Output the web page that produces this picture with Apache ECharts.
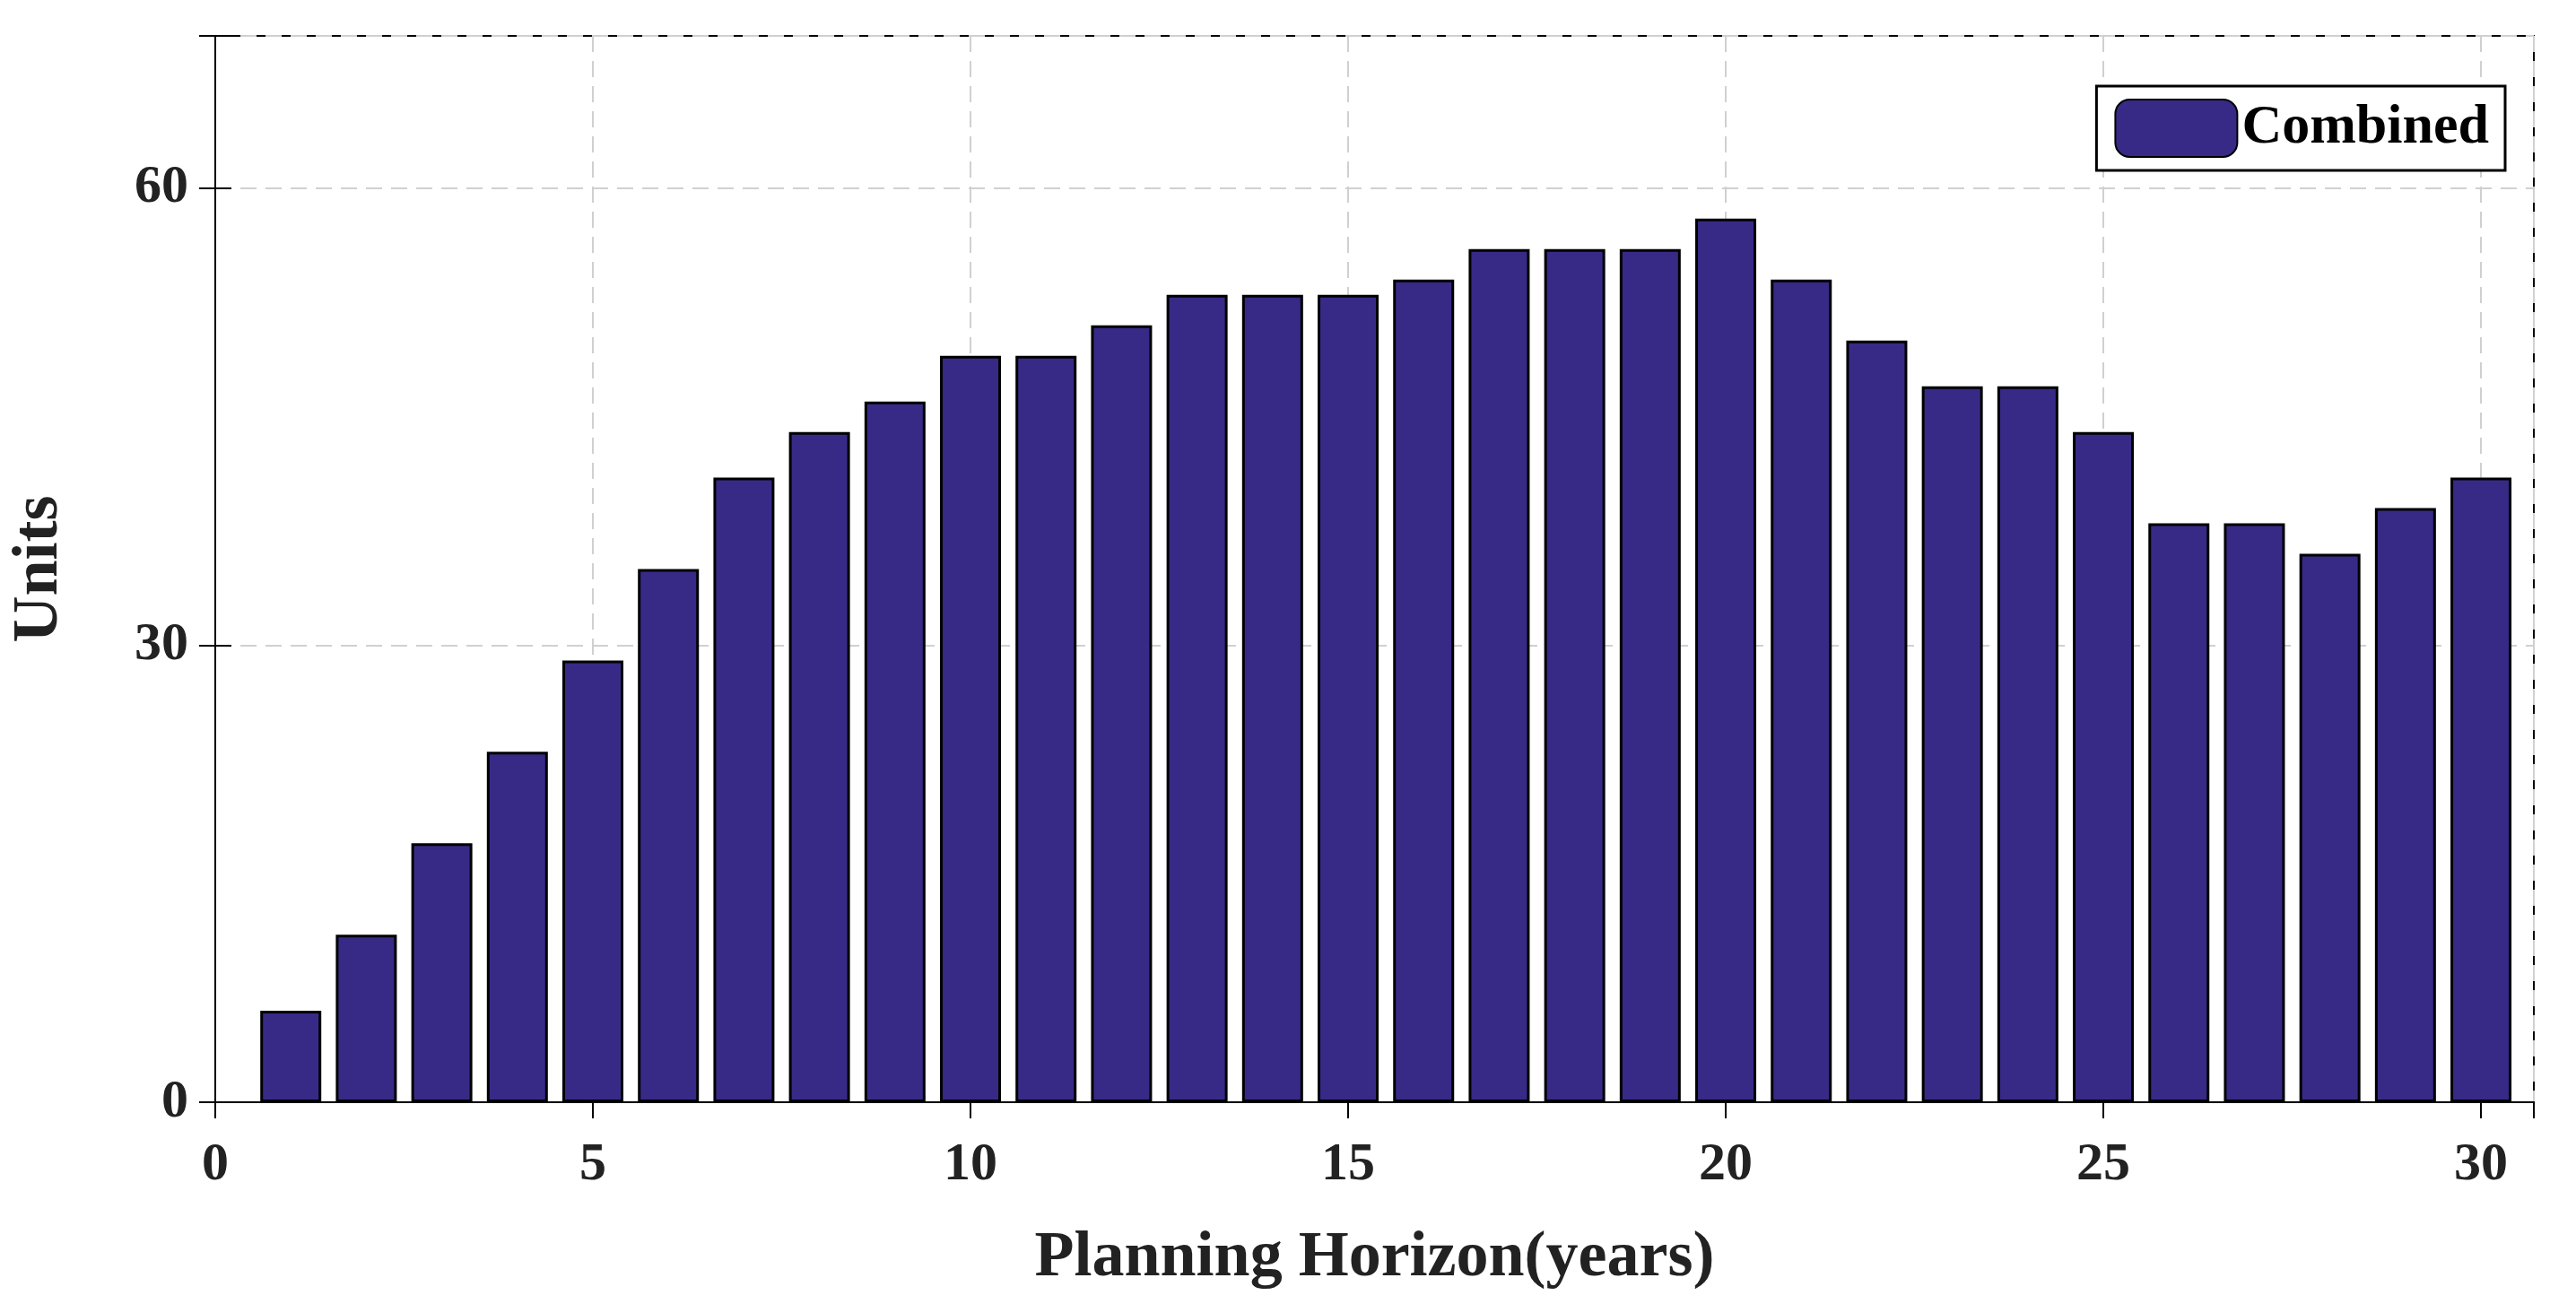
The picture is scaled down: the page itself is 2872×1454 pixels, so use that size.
<!DOCTYPE html>
<html>
<head>
<meta charset="utf-8">
<script src="https://cdn.jsdelivr.net/npm/echarts@6/dist/echarts.min.js"></script>
<style>html,body{margin:0;padding:0;background:#fff}#chart{width:2872px;height:1454px}</style>
</head>
<body>
<div id="chart"></div>
<script>
var years = [1,2,3,4,5,6,7,8,9,10,11,12,13,14,15,16,17,18,19,20,21,22,23,24,25,26,27,28,29,30];
var units = [6,11,17,23,29,35,41,44,46,49,49,51,53,53,53,54,56,56,56,58,54,50,47,47,44,38,38,36,39,41];
var xTicks = [0,5,10,15,20,25,30];
var yTicks = [0,30,60];

var font = 'Liberation Serif';
var chart = echarts.init(document.getElementById('chart'));
var data = years.map(function (y, i) { return [y, units[i]]; });

var gridLine = {show: true, lineStyle: {color: '#d0d0d0', type: [18, 10], width: 2}};
chart.setOption({
  animation: false,
  grid: {left: 224, right: 47, top: 40, bottom: 225, show: true, borderColor: '#000', borderWidth: 2},
  legend: {
    right: 79, top: 96, itemWidth: 136, itemHeight: 64, itemGap: 10,
    padding: [14, 18, 14, 20], borderColor: '#000', borderWidth: 3, backgroundColor: '#fff',
    textStyle: {fontFamily: font, fontWeight: 'bold', fontSize: 62, color: '#000'},
    data: ['Combined']
  },
  xAxis: [{
    type: 'value', min: 0, max: 30.7, interval: 5,
    name: 'Planning Horizon(years)', nameLocation: 'middle', nameGap: 138,
    nameTextStyle: {fontFamily: font, fontWeight: 'bold', fontSize: 72, color: '#222'},
    axisLine: {lineStyle: {color: '#000', width: 2}},
    axisTick: {inside: true, length: 18, lineStyle: {color: '#000', width: 2}},
    axisLabel: {margin: 40, fontFamily: font, fontWeight: 'bold', fontSize: 60, color: '#222',
      showMaxLabel: false,
      formatter: function (v) { return xTicks.indexOf(v) >= 0 ? v : ''; }},
    splitLine: gridLine
  }, {
    type: 'value', position: 'top', min: 0, max: 30.7, interval: 5,
    axisLine: {show: true, lineStyle: {color: '#000', width: 2}},
    axisTick: {inside: true, length: 18, lineStyle: {color: '#000', width: 2}},
    axisLabel: {show: false}, splitLine: {show: false}
  }],
  yAxis: [{
    type: 'value', min: 0, max: 70, interval: 30,
    name: 'Units', nameLocation: 'middle', nameGap: 160,
    nameTextStyle: {fontFamily: font, fontWeight: 'bold', fontSize: 72, color: '#222'},
    axisLine: {show: true, lineStyle: {color: '#000', width: 2}},
    axisTick: {show: true, inside: true, length: 18, lineStyle: {color: '#000', width: 2}},
    axisLabel: {margin: 30, fontFamily: font, fontWeight: 'bold', fontSize: 60, color: '#222',
      formatter: function (v) { return yTicks.indexOf(v) >= 0 ? v : ''; }},
    splitLine: gridLine
  }, {
    type: 'value', position: 'right', min: 0, max: 70, interval: 30,
    axisLine: {show: true, lineStyle: {color: '#000', width: 2}},
    axisTick: {show: true, inside: true, length: 18, lineStyle: {color: '#000', width: 2}},
    axisLabel: {show: false}, splitLine: {show: false}
  }],
  series: [{
    name: 'Combined', type: 'bar', data: data, barWidth: 68,
    itemStyle: {color: '#372A87', borderColor: '#000', borderWidth: 3}
  }]
});
</script>
</body>
</html>
